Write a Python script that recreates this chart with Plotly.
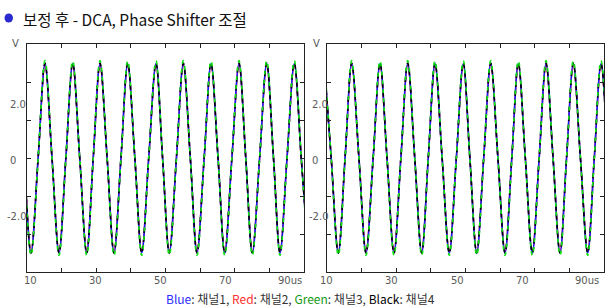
import plotly.graph_objects as go

W, H = 606, 307

# ---------------- data ----------------
# Left panel: times (us) of alternating extremes (peak first) and zero crossings
left_ext_t = [7.24, 11.24, 15.28, 19.32, 23.27, 27.31, 31.15, 35.19, 39.14, 43.18, 47.3,
              51.14, 55.18, 59.13, 63.17, 67.13, 71.25, 75.09, 79.24, 83.08, 87.2, 91.2]
left_zero_t = [9.2, 13.3, 17.3, 21.3, 25.3, 29.2, 33.2, 37.2, 41.2, 45.2, 49.2,
               53.2, 57.2, 61.2, 65.2, 69.2, 73.2, 77.2, 81.2, 85.1, 89.2]
# Right panel
right_ext_t = [9.3, 13.35, 17.21, 21.34, 25.38, 29.42, 33.37, 37.41, 41.25, 45.37, 49.41,
               53.28, 57.32, 61.44, 65.28, 69.32, 73.27, 77.31, 81.15, 85.3, 89.14, 93.2]
right_zero_t = [11.3, 15.3, 19.3, 23.4, 27.4, 31.4, 35.4, 39.3, 43.3, 47.4, 51.3,
                55.3, 59.4, 63.4, 67.3, 71.3, 75.3, 79.2, 83.2, 87.2, 91.2]

# extreme values (V) per channel, alternating peak / trough
blue_ext = [2.48, -2.50] * 11
red_ext = [2.44, -2.46] * 11
green_ext = [2.56, -2.56] * 11
black_ext = [2.50, -2.50] * 11

channels = ["채널1", "채널2", "채널3", "채널4"]
x_tick_vals = [10, 30, 50, 70, 90]
x_tick_text = ["10", "30", "50", "70", "90us"]
y_tick_vals = [2.0, 0, -2.0]
y_tick_text = ["2.0", "0", "-2.0"]


def wave(ext_t, zero_t, ext_v):
    xs, ys = [], []
    for i, (t, v) in enumerate(zip(ext_t, ext_v)):
        xs.append(t); ys.append(v)
        if i < len(zero_t):
            xs.append(zero_t[i]); ys.append(0.0)
    return xs, ys


styles = [
    ("Red", red_ext, "#ff2020", "solid", 1.5),
    ("Blue", blue_ext, "#1a1aff", "solid", 1.6),
    ("Black", black_ext, "#000000", "5px,4px", 1.6),
    ("Green", green_ext, "#10e010", "4px,5px", 1.7),
]

fig = go.Figure()
for xa, ya, ext_t, zero_t in [("x", "y", left_ext_t, left_zero_t),
                              ("x2", "y2", right_ext_t, right_zero_t)]:
    for name, ext_v, col, dash, w in styles:
        xs, ys = wave(ext_t, zero_t, ext_v)
        fig.add_trace(go.Scatter(x=xs, y=ys, xaxis=xa, yaxis=ya, mode="lines",
                                 line=dict(color=col, width=w, dash=dash, shape="spline", smoothing=1.0),
                                 showlegend=False, hoverinfo="skip", name=name, cliponaxis=True))

px = lambda p: p / W
py = lambda p: 1 - p / H

box_left = (26.7, 304)
box_right = (326.7, 604)
box_y = (272, 44)

dom_left = [px(box_left[0]), px(box_left[1])]
dom_right = [px(box_right[0]), px(box_right[1])]
dom_y = [py(box_y[0]), py(box_y[1])]

axis_common = dict(showline=True, linecolor="#222", linewidth=1.3, mirror="ticks",
                   ticks="inside", ticklen=4, tickcolor="#222", showgrid=False,
                   zeroline=False, showticklabels=False, fixedrange=True, automargin=False)

tickfont = dict(family="DejaVu Sans", size=10, color="#5a5a5a")

fig.update_layout(
    width=W, height=H, margin=dict(l=0, r=0, t=0, b=0, autoexpand=False),
    paper_bgcolor="white", plot_bgcolor="white",
    xaxis=dict(domain=dom_left, range=[10, 90], dtick=10, anchor="y", **axis_common),
    yaxis=dict(domain=dom_y, range=[-3, 3], dtick=1, anchor="x", **axis_common),
    xaxis2=dict(domain=dom_right, range=[10, 90], dtick=10, anchor="y2", **axis_common),
    yaxis2=dict(domain=dom_y, range=[-3, 3], dtick=1, anchor="x2", **axis_common),
)

# The printed labels in the source sit on their own (slightly different) scale
lab_x_left = (8.98, 94.3)
lab_x_right = (10.0, 95.1)
lab_y = (-3.98, 4.16)


def map_lin(v, r, p):
    return p[0] + (v - r[0]) / (r[1] - r[0]) * (p[1] - p[0])


ann = []
for box, rng, xl in [(box_left, lab_x_left, 8), (box_right, lab_x_right, 310)]:
    for v, t in zip(x_tick_vals, x_tick_text):
        pxx = map_lin(v, rng, box)
        ann.append(dict(text=t, xref="paper", x=px(pxx), xanchor="center", yref="paper", y=py(280),
                        yanchor="middle", showarrow=False, font=tickfont))
    for v, t in zip(y_tick_vals, y_tick_text):
        pyy = map_lin(v, lab_y, box_y)
        ann.append(dict(text=t, xref="paper", x=px(xl - (3 if t.startswith("-") else 0)), xanchor="left",
                        yref="paper", y=py(pyy), yanchor="middle", showarrow=False, font=tickfont))
for xp in [15, 316.7]:
    ann.append(dict(text="V", xref="paper", x=px(xp), xanchor="center", yref="paper", y=py(43),
                    yanchor="middle", showarrow=False, font=tickfont))

ann.append(dict(text="보정 후 - DCA, Phase Shifter 조절", xref="paper", x=px(21), xanchor="left",
                yref="paper", y=py(18.5), yanchor="middle", showarrow=False,
                font=dict(family="Noto Sans CJK KR", size=15.5, color="#111")))

legend_txt = ("<span style='color:#2b2bff'>Blue</span>: " + channels[0] + ", "
              "<span style='color:#ff3030'>Red</span>: " + channels[1] + ", "
              "<span style='color:#159a15'>Green</span>: " + channels[2] + ", "
              "<span style='color:#000'>Black</span>: " + channels[3])
ann.append(dict(text=legend_txt, xref="paper", x=px(300), xanchor="center", yref="paper", y=py(298),
                yanchor="middle", showarrow=False,
                font=dict(family="Noto Sans CJK KR", size=12, color="#333")))
fig.update_layout(annotations=ann)

fig.add_shape(type="circle", xref="paper", yref="paper", x0=px(4.5), x1=px(13), y0=py(22.5), y1=py(13.5),
              fillcolor="#2a2ad0", line=dict(width=0))

fig.write_html("out.html", config={"displayModeBar": False},
               post_script="document.body.style.margin='0';document.body.style.padding='0';")
